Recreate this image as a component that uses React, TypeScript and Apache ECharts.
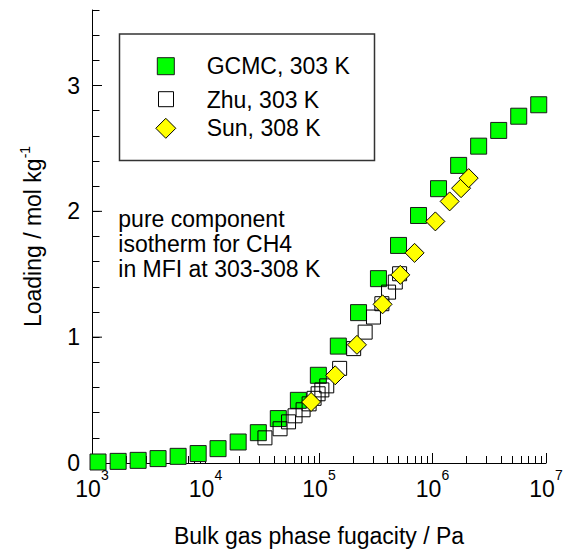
import React, { useEffect, useRef } from 'react';
import * as echarts from 'echarts';

const FONT = 'Liberation Sans, Arial, Helvetica, sans-serif';

// GCMC simulation, 303 K
const gcmcFugacity = [1130, 1700, 2550, 3820, 5740, 8620, 12900, 19400, 29200, 43800, 65800, 98700, 148000, 223000, 334000, 502000, 753000, 1130000, 1700000, 2550000, 3830000, 5750000, 8630000];
const gcmcLoading = [0.008, 0.013, 0.021, 0.035, 0.053, 0.075, 0.114, 0.167, 0.241, 0.353, 0.498, 0.697, 0.929, 1.195, 1.465, 1.729, 1.967, 2.18, 2.365, 2.518, 2.643, 2.756, 2.847];

// Zhu experimental data, 303 K
const zhuFugacity = [33400, 45400, 53900, 61500, 72400, 81800, 90500, 98200, 106000, 117000, 152000, 202000, 255000, 302000, 358000, 410000, 470000, 513000];
const zhuLoading = [0.2, 0.272, 0.327, 0.375, 0.423, 0.47, 0.514, 0.55, 0.581, 0.613, 0.752, 0.909, 1.04, 1.16, 1.266, 1.358, 1.438, 1.504];

// Sun experimental data, 308 K
const sunFugacity = [85200, 139000, 216000, 363000, 520000, 695000, 1060000, 1416000, 1786000, 2084000];
const sunLoading = [0.485, 0.697, 0.939, 1.261, 1.495, 1.67, 1.92, 2.079, 2.184, 2.264];

// Axis ranges and tick values
const xMin = 1e3;
const xMax = 1e7;
const yMin = 0;
const yMax = 3.6;
const yMinorStep = 0.2;
const yMajorValues = [0, 1, 2, 3];

const legendNames = ['GCMC, 303 K', 'Zhu, 303 K', 'Sun, 308 K'];
const noteLines = ['pure component', 'isotherm for CH4', 'in MFI at 303-308 K'];

const zip = (xs: number[], ys: number[]) => xs.map((x, i) => [x, ys[i]]);

export default function App() {
  const ref = useRef<HTMLDivElement>(null);

  useEffect(() => {
    if (!ref.current) return;
    const chart = echarts.init(ref.current, undefined, { renderer: 'svg' });

    const txt = { fontFamily: FONT, color: '#000' };

    const option: any = {
      animation: false,
      backgroundColor: '#fff',
      grid: { left: 92, right: 20, top: 10, bottom: 94, containLabel: false },
      xAxis: {
        type: 'log',
        logBase: 10,
        min: xMin,
        max: xMax,
        axisLine: { show: true, lineStyle: { color: '#000', width: 1 } },
        axisTick: { show: true, inside: true, length: 10, lineStyle: { color: '#000', width: 1 } },
        minorTick: { show: true, splitNumber: 9, length: 7, lineStyle: { color: '#000', width: 1 } },
        splitLine: { show: false },
        minorSplitLine: { show: false },
        axisLabel: {
          margin: 5,
          // powers of ten with a raised exponent
          formatter: (v: number) => `{b|10}{s|${Math.round(Math.log10(v))}}`,
          rich: {
            b: { ...txt, fontSize: 23, lineHeight: 32, verticalAlign: 'bottom' },
            s: { ...txt, fontSize: 14, lineHeight: 8, verticalAlign: 'top' },
          },
        },
        name: 'Bulk gas phase fugacity / Pa',
        nameLocation: 'middle',
        nameGap: 61,
        nameTextStyle: { ...txt, fontSize: 23 },
      },
      yAxis: {
        type: 'value',
        min: yMin,
        max: yMax,
        interval: yMinorStep,
        axisLine: { show: true, lineStyle: { color: '#000', width: 1 } },
        axisTick: { show: true, inside: true, length: 7.5, lineStyle: { color: '#000', width: 1 } },
        splitLine: { show: false },
        axisLabel: {
          ...txt,
          fontSize: 23,
          margin: 12,
          formatter: (v: number) => (Math.abs(v - Math.round(v)) < 1e-6 ? String(Math.round(v)) : ''),
        },
        name: '{b|Loading / mol kg}{s|-1}',
        nameLocation: 'middle',
        nameGap: 48,
        nameTextStyle: {
          ...txt,
          fontSize: 23,
          rich: {
            b: { ...txt, fontSize: 23, lineHeight: 26, verticalAlign: 'bottom' },
            s: { ...txt, fontSize: 14, lineHeight: 14, verticalAlign: 'top' },
          },
        },
      },
      series: [
        {
          // longer ticks at the integer loadings
          type: 'custom',
          silent: true,
          clip: false,
          z: 1,
          data: yMajorValues.map((v) => [xMin, v]),
          renderItem: (_p: any, api: any) => {
            const p = api.coord([api.value(0), api.value(1)]);
            return {
              type: 'line',
              shape: { x1: p[0], y1: p[1], x2: p[0] + 10, y2: p[1] },
              style: { stroke: '#000', lineWidth: 1 },
            };
          },
        },
        {
          name: legendNames[0],
          type: 'scatter',
          symbol: 'rect',
          symbolSize: 16,
          z: 2,
          data: zip(gcmcFugacity, gcmcLoading),
          itemStyle: { color: '#00ff00', borderColor: '#1a1a1a', borderWidth: 1, opacity: 1 },
        },
        {
          name: legendNames[1],
          type: 'scatter',
          symbol: 'rect',
          symbolSize: 14,
          z: 3,
          data: zip(zhuFugacity, zhuLoading),
          itemStyle: { color: 'rgba(255,255,255,0)', borderColor: '#000', borderWidth: 1, opacity: 1 },
        },
        {
          name: legendNames[2],
          type: 'scatter',
          symbol: 'diamond',
          symbolSize: 19,
          z: 4,
          data: zip(sunFugacity, sunLoading),
          itemStyle: { color: '#ffff00', borderColor: '#000', borderWidth: 1, opacity: 1 },
        },
      ],
      graphic: [
        // legend frame and keys
        {
          type: 'rect',
          shape: { x: 119.5, y: 34, width: 255, height: 126.5 },
          style: { fill: 'none', stroke: '#333', lineWidth: 1.5 },
        },
        {
          type: 'rect',
          shape: { x: 157.3, y: 57.7, width: 17, height: 17 },
          style: { fill: '#00ff00', stroke: '#1a1a1a', lineWidth: 1 },
        },
        {
          type: 'rect',
          shape: { x: 158.5, y: 91.7, width: 15, height: 15 },
          style: { fill: '#fff', stroke: '#000', lineWidth: 1 },
        },
        {
          type: 'polygon',
          shape: { points: [[165.8, 118.3], [175.8, 128.3], [165.8, 138.3], [155.8, 128.3]] },
          style: { fill: '#ffff00', stroke: '#000', lineWidth: 1 },
        },
        ...legendNames.map((t, i) => ({
          type: 'text',
          style: {
            x: 206.7,
            y: [66, 99.5, 128][i],
            text: t,
            font: `23px ${FONT}`,
            fill: '#000',
            verticalAlign: 'middle',
          },
        })),
        // annotation
        ...noteLines.map((t, i) => ({
          type: 'text',
          style: {
            x: 118.3,
            y: 219 + 25 * i,
            text: t,
            font: `23px ${FONT}`,
            fill: '#000',
            verticalAlign: 'middle',
          },
        })),
      ],
    };

    chart.setOption(option);
    return () => chart.dispose();
  }, []);

  return (
    <div
      ref={ref}
      style={{ position: 'absolute', left: 0, top: 0, width: 566, height: 557, background: '#fff' }}
    />
  );
}
